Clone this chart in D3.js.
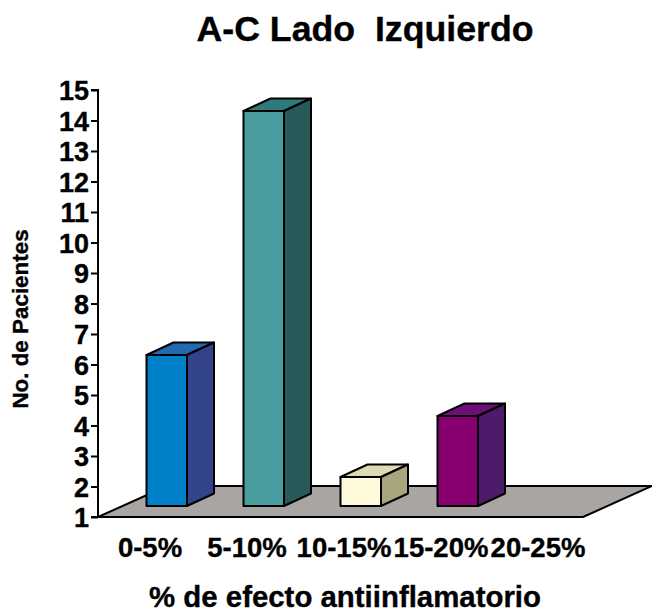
<!DOCTYPE html>
<html><head><meta charset="utf-8">
<script src="https://d3js.org/d3.v7.min.js"></script>
<style>html,body{margin:0;padding:0;background:#fff}svg{display:block}text{font-family:"Liberation Sans",Arial,sans-serif;font-weight:700;fill:#000;stroke:#000;stroke-width:.35px;white-space:pre}</style>
</head><body><svg id="c" width="652" height="609"></svg>
<script>
const categories=["0-5%","5-10%","10-15%","15-20%","20-25%"];
const values=[6,14,2,4,0];
const frontColors=["#0080c8","#4a9d9f","#fff9dc","#880070"];
const sideColors=["#33448a","#285a5a","#a9a67e","#4e1b6b"];
const topColors=["#2468b0","#2f7b7b","#dedbb4","#6e0f78"];
const yTicks=d3.range(1,16);
const title="A-C Lado  Izquierdo", xTitle="% de efecto antiinflamatorio", yTitle="No. de Pacientes";

const svg=d3.select("#c");
const x=d3.scaleBand().domain(categories).range([98,583]);
const y=d3.scaleLinear().domain([1,15]).range([517,90]);
const floorDx=69,floorDy=31,barDx=27,barDy=12.5,liftBase=11,liftTop=9.5,barW=40.5;
const line=d3.line();
const stroke={stroke:"#000","stroke-width":2,"stroke-linejoin":"round"};
function poly(pts,fill){const p=svg.append("path").attr("d",line(pts)+"Z").attr("fill",fill);
 Object.entries(stroke).forEach(([k,v])=>p.attr(k,v));return p;}

poly([[x.range()[0],y(1)],[x.range()[1],y(1)],[x.range()[1]+floorDx,y(1)-floorDy],[x.range()[0]+floorDx,y(1)-floorDy]],"#a9a5a2");

const yAxis=d3.axisLeft(y).tickValues(yTicks).tickFormat(d3.format("d")).tickSize(7).tickPadding(2);
const gy=svg.append("g").attr("transform","translate(98,0)").call(yAxis);
gy.selectAll("path,line").attr("stroke","#000").attr("stroke-width",2);
gy.select(".domain").attr("d",`M-7,${y(15)}H0V${y(1)}H-7`);
gy.selectAll("text").style("font-size","27px").style("font-family",'"Liberation Sans",Arial,sans-serif').style("font-weight",700).attr("fill","#000").attr("y",0).attr("dy","0.36em");
svg.append("line").attr("x1",x.range()[0]).attr("x2",x.range()[1]).attr("y1",y(1)).attr("y2",y(1)).attr("stroke","#000").attr("stroke-width",2);

categories.forEach((c,i)=>{
 const v=values[i]; if(!v) return;
 const l=x(c)+x.bandwidth()/2, r=l+barW;
 const b=y(1)-liftBase, t=y(v)-liftTop;
 poly([[l,t],[r,t],[r+barDx,t-barDy],[l+barDx,t-barDy]],topColors[i]);
 poly([[r,t],[r+barDx,t-barDy],[r+barDx,b-barDy],[r,b]],sideColors[i]);
 poly([[l,t],[r,t],[r,b],[l,b]],frontColors[i]);
});

svg.append("g").selectAll("text").data(categories).join("text")
 .attr("x",d=>x(d)+x.bandwidth()/2+3.5).attr("y",556.5).attr("text-anchor","middle").style("font-size","27.5px").text(d=>d);
svg.append("text").attr("x",365).attr("y",41).attr("text-anchor","middle").style("font-size","35.7px").text(title);
svg.append("text").attr("x",345).attr("y",606.5).attr("text-anchor","middle").style("font-size","29.4px").text(xTitle);
svg.append("text").attr("transform","translate(28,319) rotate(-90)").attr("text-anchor","middle").style("font-size","22.4px").text(yTitle);
</script></body></html>
